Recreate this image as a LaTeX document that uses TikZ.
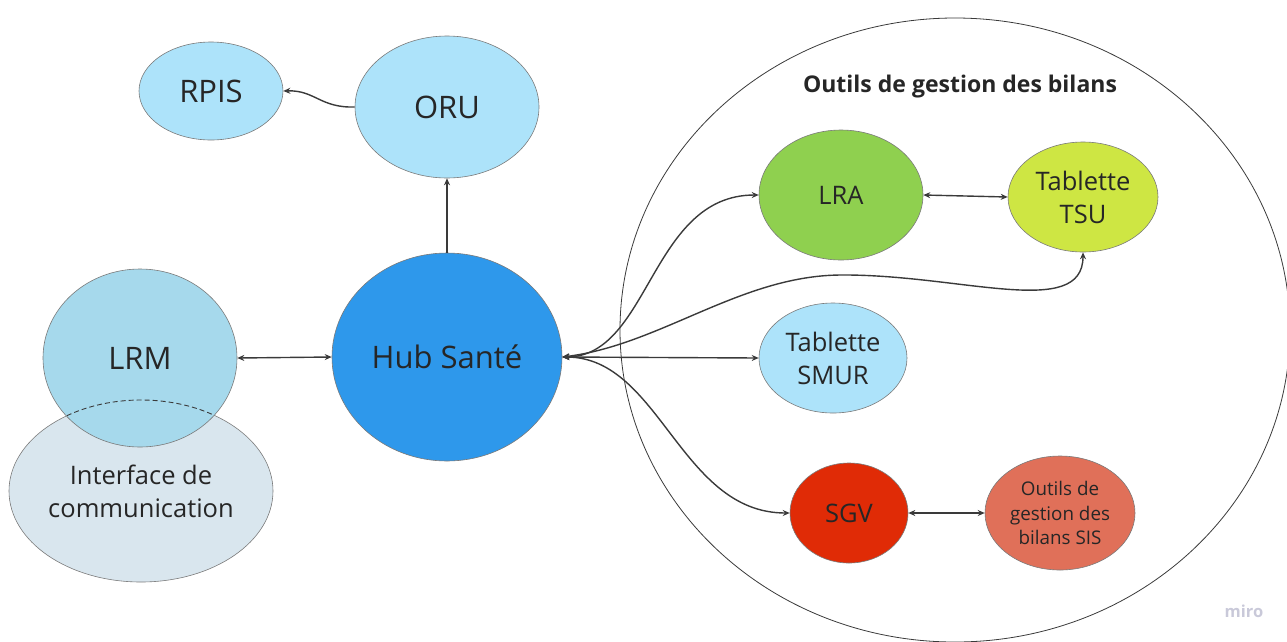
\documentclass[tikz,border=0pt]{standalone}
\usepackage{fontspec}
\setmainfont{Open Sans}
\usetikzlibrary{shapes.geometric,arrows.meta}
\definecolor{txt}{HTML}{262626}
\definecolor{bordergray}{HTML}{7A7A7A}
\definecolor{linegray}{HTML}{3A3A3A}
\definecolor{lightblue}{HTML}{ADE3FA}
\definecolor{lrmblue}{HTML}{A6D9EC}
\definecolor{ifacegray}{HTML}{D9E6EE}
\definecolor{hubblue}{HTML}{2E98EB}
\definecolor{lragreen}{HTML}{8FD04F}
\definecolor{tsuyellow}{HTML}{CEE643}
\definecolor{sgvred}{HTML}{E02B06}
\definecolor{sisred}{HTML}{E07059}
\definecolor{mirogray}{HTML}{C9C9D9}
\tikzset{
  bub/.style={ellipse, draw=bordergray, line width=0.6pt, inner sep=0pt, align=center, text=txt},
  conn/.style={line width=1.4pt, draw=linegray, -{Stealth[length=7pt,width=6pt]}},
  bconn/.style={line width=1.4pt, draw=linegray, {Stealth[length=7pt,width=6pt]}-{Stealth[length=7pt,width=6pt]}},
  fa/.style={font=\fontsize{31}{38}\selectfont},
  fb/.style={font=\fontsize{31}{38}\selectfont},
  fc/.style={font=\fontsize{25.5}{33}\selectfont},
  fd/.style={font=\fontsize{18.8}{24.5}\selectfont},
}
\begin{document}
\begin{tikzpicture}[x=1pt,y=-1pt]
\useasboundingbox (0,0) rectangle (1287,641);
% big grouping ellipse
\draw[line width=0.8pt, draw=linegray] (955,330) ellipse [x radius=335pt, y radius=312pt];
\node[font=\bfseries\fontsize{23}{28}\selectfont, text=txt] (title) at (960,87) {Outils de gestion des bilans};
% left group
\node[bub, fill=ifacegray, fc, minimum width=264pt, minimum height=182pt] (iface) at (141,491) {Interface de\\communication};
\node[bub, fill=lrmblue, fb, minimum width=194pt, minimum height=178pt] (lrm) at (140,358) {LRM};
\begin{scope}
  \clip (140,358) ellipse [x radius=97pt, y radius=89pt];
  \draw[dashed, dash pattern=on 5pt off 3pt, line width=0.9pt, draw=linegray] (141,491) ellipse [x radius=132pt, y radius=91pt];
\end{scope}
% center
\node[bub, fill=hubblue, fb, minimum width=230pt, minimum height=208pt] (hub) at (447,357) {Hub Santé};
\node[bub, fill=lightblue, fa, minimum width=184pt, minimum height=142pt] (oru) at (447,107) {ORU};
\node[bub, fill=lightblue, fa, minimum width=144pt, minimum height=98pt] (rpis) at (211,91) {RPIS};
% right group
\node[bub, fill=lragreen, fc, minimum width=164pt, minimum height=130pt] (lra) at (841,195) {LRA};
\node[bub, fill=tsuyellow, fc, minimum width=150pt, minimum height=110pt] (tsu) at (1083,197) {Tablette\\TSU};
\node[bub, fill=lightblue, fc, minimum width=148pt, minimum height=110pt] (smur) at (833,358) {Tablette\\SMUR};
\node[bub, fill=sgvred, fc, minimum width=118pt, minimum height=100pt] (sgv) at (849,513) {SGV};
\node[bub, fill=sisred, fd, minimum width=150pt, minimum height=114pt] (sis) at (1060,513) {Outils de\\gestion des\\bilans SIS};
% watermark
\node[text=mirogray, font=\bfseries\fontsize{16.5}{18}\selectfont] (miro) at (1244,611) {miro};
% connectors
\draw[bconn] (lrm.east) -- (hub.west);
\draw[conn] (hub.north) -- (oru.south);
\draw[conn] (oru.west) .. controls (320,108) and (315,90) .. (rpis.east);
\draw[bconn] (hub.east) .. controls (650,357) and (650,195) .. (lra.west);
\draw[bconn] (hub.east) .. controls (660,345) and (740,276) .. (840,275) .. controls (960,274) and (1083,320) .. (tsu.south);
\draw[bconn] (hub.east) -- (smur.west);
\draw[bconn] (hub.east) .. controls (660,357) and (680,513) .. (sgv.west);
\draw[bconn] (lra.east) -- (tsu.west);
\draw[bconn] (sgv.east) -- (sis.west);
\end{tikzpicture}
\end{document}
